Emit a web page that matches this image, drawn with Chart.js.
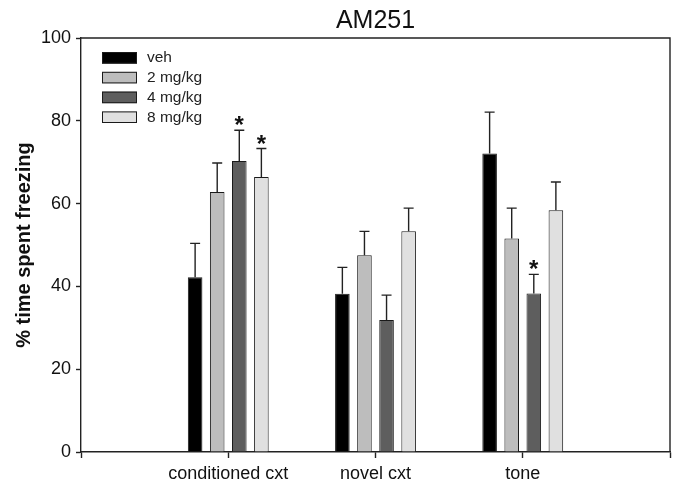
<!DOCTYPE html>
<html>
<head>
<meta charset="utf-8">
<script src="https://cdn.jsdelivr.net/npm/chart.js@4/dist/chart.umd.min.js"></script>
<style>
  html, body { margin: 0; padding: 0; background: #fff; }
  #wrap { width: 675px; height: 483px; }
</style>
</head>
<body>
<div id="wrap"><canvas id="chart"></canvas></div>
<script>
// values
const categories = [ 'conditioned cxt', 'novel cxt', 'tone' ];
const seriesNames = [ 'veh', '2 mg/kg', '4 mg/kg', '8 mg/kg' ];
const veh = [ 42.2, 38.2, 72.1 ];
const mg2 = [ 62.8, 47.5, 51.6 ];
const mg4 = [ 70.3, 31.9, 38.3 ];
const mg8 = [ 66.4, 53.3, 58.4 ];
// SEM (upper whisker only)
const vehErr = [ 8.2, 6.4, 10.0 ];
const mg2Err = [ 7.0, 5.8, 7.3 ];
const mg4Err = [ 7.4, 6.0, 4.6 ];
const mg8Err = [ 6.9, 5.6, 6.8 ];
// significance stars
const vehSig = [ false, false, false ];
const mg2Sig = [ false, false, false ];
const mg4Sig = [ true, false, true ];
const mg8Sig = [ true, false, false ];
const yTicks = [ 0, 20, 40, 60, 80, 100 ];

const FONT = "'Liberation Sans', Arial, Helvetica, sans-serif";
const INK = '#222';

// empty slot at each end, like the original axis
const labels = [ '' ].concat( categories, [ '' ] );
const pad = ( arr ) => [ null ].concat( arr, [ null ] );

const colours = [ '#000000', '#bdbdbd', '#5e5e5e', '#e0e0e0' ];
const values = [ veh, mg2, mg4, mg8 ];
const errs = [ vehErr, mg2Err, mg4Err, mg8Err ];
const sigs = [ vehSig, mg2Sig, mg4Sig, mg8Sig ];

const datasets = seriesNames.map( function ( name, i ) {
	return {
		label: name,
		data: pad( values[ i ] ),
		err: pad( errs[ i ] ),
		sig: pad( sigs[ i ] ),
		backgroundColor: colours[ i ],
		borderColor: '#1a1a1a',
		borderWidth: 1,
		categoryPercentage: 0.6,
		barPercentage: 0.66
	};
} );

// whiskers + stars
const errorBars = {
	id: 'errorBars',
	afterDatasetsDraw( chart ) {
		const ctx = chart.ctx;
		const y = chart.scales.y;
		ctx.save();
		chart.data.datasets.forEach( function ( ds, i ) {
			const meta = chart.getDatasetMeta( i );
			meta.data.forEach( function ( bar, j ) {
				const v = ds.data[ j ];
				if ( v === null ) {
					return;
				}
				const top = y.getPixelForValue( v + ds.err[ j ] );
				ctx.strokeStyle = INK;
				ctx.lineWidth = 1.4;
				ctx.beginPath();
				ctx.moveTo( bar.x, bar.y );
				ctx.lineTo( bar.x, top );
				ctx.moveTo( bar.x - 5, top );
				ctx.lineTo( bar.x + 5, top );
				ctx.stroke();
				if ( ds.sig[ j ] ) {
					ctx.fillStyle = '#111';
					ctx.font = 'bold 24px ' + FONT;
					ctx.textAlign = 'center';
					ctx.textBaseline = 'alphabetic';
					ctx.fillText( '*', bar.x, top + 3 );
				}
			} );
		} );
		ctx.restore();
	}
};

// box round the plot and the legend inside it
const frame = {
	id: 'frame',
	afterDraw( chart ) {
		const ctx = chart.ctx;
		const a = chart.chartArea;
		ctx.save();
		ctx.strokeStyle = INK;
		ctx.lineWidth = 1.4;
		ctx.beginPath();
		ctx.moveTo( a.left, a.top );
		ctx.lineTo( a.right, a.top );
		ctx.lineTo( a.right, a.bottom );
		ctx.stroke();

		chart.data.datasets.forEach( function ( ds, i ) {
			const bx = a.left + 21;
			const by = a.top + 14 + i * 19.8;
			ctx.fillStyle = ds.backgroundColor;
			ctx.fillRect( bx, by, 35, 11.6 );
			ctx.strokeStyle = '#1a1a1a';
			ctx.lineWidth = 1;
			ctx.strokeRect( bx + 0.5, by + 0.5, 34, 10.6 );
			ctx.fillStyle = INK;
			ctx.font = '15.5px ' + FONT;
			ctx.textAlign = 'left';
			ctx.textBaseline = 'middle';
			ctx.fillText( ds.label, bx + 45, by + 6 );
		} );
		ctx.restore();
	}
};

new Chart( document.getElementById( 'chart' ), {
	type: 'bar',
	data: { labels: labels, datasets: datasets },
	options: {
		responsive: true,
		maintainAspectRatio: false,
		animation: false,
		layout: { padding: { right: 4, left: 0, bottom: 0 } },
		plugins: {
			legend: { display: false },
			tooltip: { enabled: false },
			title: {
				display: true,
				text: 'AM251',
				fullSize: false,
				color: '#111',
				font: { family: FONT, size: 25, weight: 'normal' },
				padding: { top: 6, bottom: 2 }
			}
		},
		scales: {
			x: {
				offset: false,
				grid: { offset: false, drawOnChartArea: false, tickLength: 6, tickColor: INK, tickWidth: 1.4 },
				border: { color: INK, width: 1.4 },
				ticks: { color: '#111', font: { family: FONT, size: 18 }, padding: 5, maxRotation: 0, autoSkip: false },
				afterFit( scale ) { scale.height = 31; }
			},
			y: {
				min: 0,
				max: 100,
				afterBuildTicks( scale ) { scale.ticks = yTicks.map( v => ( { value: v } ) ); },
				grid: { drawOnChartArea: false, tickLength: 5, tickColor: INK, tickWidth: 1.4 },
				border: { color: INK, width: 1.4 },
				ticks: { color: '#111', font: { family: FONT, size: 18 }, padding: 5 },
				title: {
					display: true,
					text: '% time spent freezing',
					color: '#111',
					font: { family: FONT, size: 20, weight: 'bold' },
					padding: { top: 12, bottom: 0 }
				},
				afterFit( scale ) { scale.width = 81; }
			}
		}
	},
	plugins: [ errorBars, frame ]
} );
</script>
</body>
</html>
